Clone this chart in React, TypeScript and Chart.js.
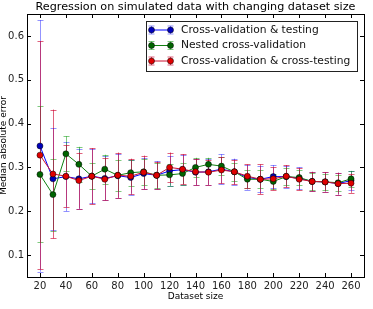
import React, { useEffect, useRef } from "react";
import { Chart, registerables } from "chart.js";

Chart.register(...registerables);

// Dataset sizes on the x axis
const sizes = [20, 30, 40, 50, 60, 70, 80, 90, 100, 110, 120, 130, 140, 150, 160, 170, 180, 190, 200, 210, 220, 230, 240, 250, 260];

// Median absolute error per method, with its spread
const cvTesting = [0.349, 0.274, 0.279, 0.274, 0.280, 0.275, 0.281, 0.277, 0.286, 0.282, 0.292, 0.295, 0.289, 0.290, 0.296, 0.290, 0.277, 0.273, 0.279, 0.279, 0.275, 0.268, 0.267, 0.263, 0.270];
const cvTestingErr = [0.287, 0.116, 0.079, 0.069, 0.062, 0.050, 0.050, 0.040, 0.036, 0.032, 0.034, 0.034, 0.030, 0.030, 0.034, 0.030, 0.028, 0.030, 0.026, 0.025, 0.025, 0.022, 0.022, 0.025, 0.022];

const nestedCv = [0.284, 0.238, 0.331, 0.307, 0.280, 0.296, 0.282, 0.288, 0.290, 0.282, 0.283, 0.286, 0.300, 0.307, 0.303, 0.290, 0.273, 0.273, 0.268, 0.279, 0.277, 0.268, 0.267, 0.265, 0.274];
const nestedCvErr = [0.155, 0.082, 0.040, 0.040, 0.030, 0.033, 0.036, 0.030, 0.030, 0.028, 0.025, 0.025, 0.022, 0.015, 0.020, 0.020, 0.020, 0.020, 0.018, 0.020, 0.018, 0.020, 0.018, 0.018, 0.018];

const cvCrossTesting = [0.328, 0.285, 0.280, 0.270, 0.280, 0.273, 0.282, 0.280, 0.289, 0.282, 0.300, 0.296, 0.290, 0.289, 0.294, 0.290, 0.280, 0.273, 0.274, 0.280, 0.273, 0.268, 0.267, 0.263, 0.264];
const cvCrossTestingErr = [0.260, 0.147, 0.070, 0.064, 0.064, 0.048, 0.052, 0.040, 0.038, 0.031, 0.034, 0.034, 0.030, 0.029, 0.030, 0.028, 0.027, 0.034, 0.026, 0.025, 0.025, 0.022, 0.022, 0.025, 0.022];

const xTicks = [20, 40, 60, 80, 100, 120, 140, 160, 180, 200, 220, 240, 260];
const yTicks = [0.1, 0.2, 0.3, 0.4, 0.5, 0.6];

const titleText = "Regression on simulated data with changing dataset size";
const xLabel = "Dataset size";
const yLabel = "Median absolute error";

const FONT = "'DejaVu Sans', sans-serif";

type Series = {
  label: string;
  values: number[];
  errors: number[];
  line: string;
  marker: string;
  errColor: string;
  order: number;
};

const series: Series[] = [
  { label: "Cross-validation & testing", values: cvTesting, errors: cvTestingErr, line: "#0000ff", marker: "#0000bb", errColor: "rgba(40,40,255,0.5)", order: 3 },
  { label: "Nested cross-validation", values: nestedCv, errors: nestedCvErr, line: "#108010", marker: "#006400", errColor: "rgba(0,150,0,0.5)", order: 2 },
  { label: "Cross-validation & cross-testing", values: cvCrossTesting, errors: cvCrossTestingErr, line: "#cc1030", marker: "#e00000", errColor: "rgba(205,0,45,0.62)", order: 1 },
];

const CAP = 3;

const decorations = {
  id: "decorations",
  beforeDatasetsDraw(chart: any) {
    const { ctx, scales } = chart;
    const xs = scales.x;
    const ys = scales.y;
    ctx.save();
    ctx.lineWidth = 1;
    series.forEach((s) => {
      ctx.strokeStyle = s.errColor;
      s.values.forEach((v, i) => {
        const px = Math.round(xs.getPixelForValue(sizes[i])) + 0.5;
        const top = ys.getPixelForValue(v + s.errors[i]);
        const bot = ys.getPixelForValue(v - s.errors[i]);
        ctx.beginPath();
        ctx.moveTo(px, top);
        ctx.lineTo(px, bot);
        ctx.moveTo(px - CAP, Math.round(top) + 0.5);
        ctx.lineTo(px + CAP, Math.round(top) + 0.5);
        ctx.moveTo(px - CAP, Math.round(bot) + 0.5);
        ctx.lineTo(px + CAP, Math.round(bot) + 0.5);
        ctx.stroke();
      });
    });
    ctx.restore();
  },
  afterDraw(chart: any) {
    const { ctx, chartArea, scales } = chart;
    const { left, right, top, bottom } = chartArea;
    const xs = scales.x;
    const ys = scales.y;
    ctx.save();

    // frame
    ctx.strokeStyle = "#000";
    ctx.lineWidth = 1;
    ctx.strokeRect(Math.round(left) + 0.5, Math.round(top) + 0.5, Math.round(right - left), Math.round(bottom - top));

    // inward tick marks on all four sides
    ctx.beginPath();
    xTicks.forEach((t) => {
      const px = Math.round(xs.getPixelForValue(t)) + 0.5;
      ctx.moveTo(px, bottom);
      ctx.lineTo(px, bottom - 4);
      ctx.moveTo(px, top);
      ctx.lineTo(px, top + 4);
    });
    yTicks.forEach((t) => {
      const py = Math.round(ys.getPixelForValue(t)) + 0.5;
      ctx.moveTo(left, py);
      ctx.lineTo(left + 4, py);
      ctx.moveTo(right, py);
      ctx.lineTo(right - 4, py);
    });
    ctx.stroke();

    // title and axis labels
    ctx.fillStyle = "#000";
    ctx.textAlign = "center";
    ctx.textBaseline = "middle";
    ctx.font = `11.2px ${FONT}`;
    ctx.fillText(titleText, (left + right) / 2, 7.5);
    ctx.font = `9px ${FONT}`;
    ctx.fillText(xLabel, (left + right) / 2, 297);
    ctx.save();
    ctx.translate(3.5, (top + bottom) / 2);
    ctx.rotate(-Math.PI / 2);
    ctx.fillText(yLabel, 0, 0);
    ctx.restore();

    // legend
    const lx = 146.5, ly = 21.5, lw = 211, lh = 50;
    ctx.fillStyle = "#fff";
    ctx.fillRect(lx, ly, lw, lh);
    ctx.strokeStyle = "#222";
    ctx.strokeRect(lx, ly, lw, lh);
    const rows = [30, 45.5, 61];
    ctx.font = `10.7px ${FONT}`;
    ctx.textAlign = "left";
    series.forEach((s, k) => {
      const y = rows[k];
      const x1 = 151, x2 = 170;
      ctx.strokeStyle = s.errColor;
      ctx.beginPath();
      [x1, x2].forEach((x) => {
        ctx.moveTo(x + 0.5, y - 4);
        ctx.lineTo(x + 0.5, y + 4);
        ctx.moveTo(x + 0.5 - CAP, y - 4);
        ctx.lineTo(x + 0.5 + CAP, y - 4);
        ctx.moveTo(x + 0.5 - CAP, y + 4);
        ctx.lineTo(x + 0.5 + CAP, y + 4);
      });
      ctx.stroke();
      ctx.strokeStyle = s.line;
      ctx.beginPath();
      ctx.moveTo(x1, y);
      ctx.lineTo(x2, y);
      ctx.stroke();
      [x1, x2].forEach((x) => {
        ctx.beginPath();
        ctx.arc(x + 0.5, y, 3, 0, Math.PI * 2);
        ctx.fillStyle = s.marker;
        ctx.fill();
        ctx.strokeStyle = "#000";
        ctx.lineWidth = 0.5;
        ctx.stroke();
        ctx.lineWidth = 1;
      });
      ctx.fillStyle = "#111";
      ctx.fillText(s.label, 181, y);
    });

    ctx.restore();
  },
};

const whiteBg = {
  id: "whiteBg",
  beforeDraw(chart: any) {
    const { ctx, width, height } = chart;
    ctx.save();
    ctx.fillStyle = "#fff";
    ctx.fillRect(0, 0, width, height);
    ctx.restore();
  },
};

export default function App() {
  const canvasRef = useRef<HTMLCanvasElement | null>(null);

  useEffect(() => {
    if (!canvasRef.current) return;
    const chart = new Chart(canvasRef.current, {
      type: "line",
      data: {
        datasets: series.map((s) => ({
          label: s.label,
          data: s.values.map((v, i) => ({ x: sizes[i], y: v })),
          borderColor: s.line,
          borderWidth: 1,
          backgroundColor: s.marker,
          pointBackgroundColor: s.marker,
          pointBorderColor: "#000",
          pointBorderWidth: 0.5,
          pointRadius: 3,
          tension: 0,
          order: s.order,
        })),
      },
      options: {
        animation: false,
        responsive: true,
        maintainAspectRatio: false,
        layout: { padding: { top: 14, right: 9, left: 0, bottom: 0 } },
        plugins: {
          legend: { display: false },
          title: { display: false },
          tooltip: { enabled: false },
        },
        scales: {
          x: {
            type: "linear",
            min: 10,
            max: 270,
            afterBuildTicks: (scale: any) => {
              scale.ticks = xTicks.map((v) => ({ value: v }));
            },
            afterFit: (scale: any) => {
              scale.height = 32;
            },
            grid: { display: false, drawTicks: false },
            border: { display: false },
            ticks: {
              padding: 3,
              maxRotation: 0,
              autoSkip: false,
              color: "#222",
              font: { family: FONT, size: 10 },
              callback: (v: any) => String(v),
            },
          },
          y: {
            type: "linear",
            min: 0.05,
            max: 0.65,
            afterBuildTicks: (scale: any) => {
              scale.ticks = yTicks.map((v) => ({ value: v }));
            },
            afterFit: (scale: any) => {
              scale.width = 27;
            },
            grid: { display: false, drawTicks: false },
            border: { display: false },
            ticks: {
              padding: 3,
              autoSkip: false,
              color: "#222",
              font: { family: FONT, size: 10 },
              callback: (v: any) => Number(v).toFixed(1),
            },
          },
        },
      },
      plugins: [whiteBg, decorations],
    });
    return () => chart.destroy();
  }, []);

  return (
    <div style={{ position: "fixed", left: 0, top: 0, width: 373, height: 309, background: "#fff" }}>
      <canvas ref={canvasRef} />
    </div>
  );
}
